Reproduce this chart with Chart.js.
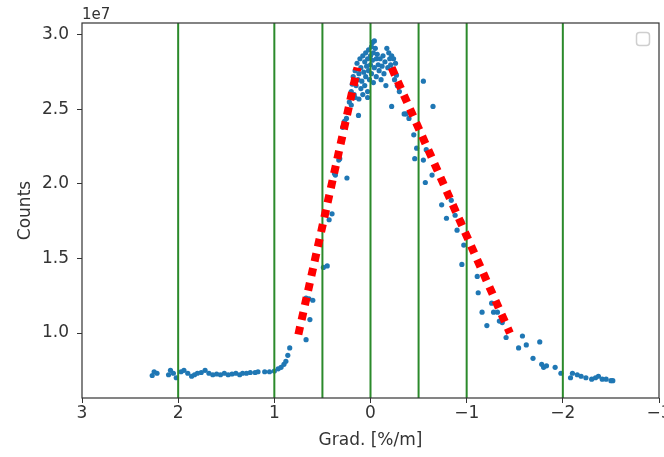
<!DOCTYPE html>
<html lang="en">
<head>
    <meta charset="UTF-8">
    <title>Gradient distribution</title>
    <script src="https://cdn.jsdelivr.net/npm/chart.js"></script>
    <style>
        html, body { margin: 0; padding: 0; background: #fff; }
        #wrap { width: 664px; height: 457px; }
    </style>
</head>
<body>
    <div id="wrap"><canvas id="gradChart" width="664" height="457"></canvas></div>

    <script>
        // counts are given in units of 1e7
        const countScale = 1e7;

        const gradX = [
            2.27, 2.25, 2.22, 2.10, 2.08, 2.05, 2.02, 1.97, 1.94, 1.90, 1.86, 1.83, 1.80, 1.76, 1.72, 1.68,
            1.64, 1.60, 1.56, 1.52, 1.48, 1.44, 1.40, 1.36, 1.33, 1.29, 1.25, 1.20, 1.17, 1.10, 1.05, 1.00,
            0.96, 0.93, 0.90, 0.88, 0.86, 0.84,
            0.67, 0.63, 0.67, 0.64, 0.60, 0.49, 0.45, 0.43, 0.40, 0.375, 0.365, 0.245, 0.33, 0.32, 0.29, 0.27,
            0.26, 0.25, 0.23, 0.20, 0.16, 0.125,
            0.22, 0.20, 0.19, 0.18, 0.17, 0.16, 0.15, 0.14, 0.13, 0.12, 0.12, 0.11, 0.10, 0.10, 0.09, 0.08,
            0.08, 0.07, 0.06, 0.06, 0.05, 0.05, 0.04, 0.03, 0.03, 0.02, 0.02, 0.01, 0.00, 0.00, -0.01, -0.01,
            -0.02, -0.02, -0.03, -0.03, -0.04, -0.04, -0.05, -0.06, -0.06, -0.07, -0.08, -0.09, -0.10, -0.11,
            -0.12, -0.13, -0.14, -0.15, -0.16, -0.17, -0.18, -0.19, -0.20, -0.21, -0.22, -0.23, -0.24, -0.25,
            -0.26, -0.27, -0.28, -0.30, 0.03,
            -0.22, -0.28, -0.35, -0.37, -0.40, -0.45, -0.48, -0.46, -0.55, -0.58, -0.55, -0.65, -0.57, -0.64,
            -0.74, -0.79, -0.84, -0.88, -0.90, -0.95, -0.97, -0.95, -1.11, -1.12, -1.16, -1.21, -1.26, -1.28,
            -1.32, -1.34, -1.37, -1.41, -1.54, -1.58, -1.62, -1.69, -1.76, -1.78, -1.80, -1.83, -1.92, -1.98,
            -2.08, -2.10, -2.15, -2.19, -2.24, -2.30, -2.34, -2.37, -2.41, -2.45, -2.50, -2.52
        ];
        const counts = [
            0.715, 0.74, 0.73, 0.72, 0.75, 0.73, 0.70, 0.74, 0.75, 0.73, 0.71, 0.72, 0.73, 0.735, 0.75, 0.73,
            0.72, 0.725, 0.72, 0.73, 0.72, 0.725, 0.73, 0.72, 0.73, 0.73, 0.735, 0.735, 0.74, 0.74, 0.74, 0.745,
            0.76, 0.77, 0.79, 0.81, 0.85, 0.90,
            0.955, 1.09, 1.235, 1.23, 1.22, 1.44, 1.45, 1.76, 1.80, 2.07, 2.06, 2.04, 2.16, 2.17, 2.38, 2.42,
            2.40, 2.44, 2.48, 2.53, 2.58, 2.46,
            2.55, 2.62, 2.67, 2.72, 2.60, 2.76, 2.66, 2.81, 2.70, 2.57, 2.74, 2.84, 2.64, 2.78, 2.69, 2.86,
            2.60, 2.75, 2.82, 2.66, 2.88, 2.72, 2.79, 2.84, 2.62, 2.90, 2.76, 2.70, 2.86, 2.80, 2.92, 2.74,
            2.95, 2.83, 2.88, 2.68, 2.96, 2.78, 2.91, 2.84, 2.72, 2.87, 2.80, 2.76, 2.84, 2.70,
            2.79, 2.86, 2.74, 2.82, 2.66, 2.91, 2.78, 2.88, 2.84, 2.80, 2.86, 2.77, 2.84, 2.70,
            2.81, 2.73, 2.66, 2.62, 2.58,
            2.52, 2.66, 2.47, 2.47, 2.44, 2.33, 2.24, 2.17, 2.16, 2.23, 2.69, 2.52, 2.01, 2.06,
            1.86, 1.77, 1.89, 1.79, 1.69, 1.75, 1.59, 1.46, 1.38, 1.27, 1.14, 1.05, 1.20, 1.14,
            1.14, 1.08, 1.07, 0.97, 0.90, 0.98, 0.92, 0.83, 0.94, 0.79, 0.77, 0.78, 0.77, 0.73,
            0.70, 0.73, 0.72, 0.71, 0.70, 0.69, 0.70, 0.71, 0.69, 0.69, 0.68, 0.68
        ];

        // vertical markers on the gradient axis
        const markerX = [2, 1, 0.5, 0, -0.5, -1, -2];

        // hand-drawn slopes on both flanks
        const leftSlopeX = [0.75, 0.135];
        const leftSlopeY = [0.99, 2.78];
        const rightSlopeX = [-0.22, -1.45];
        const rightSlopeY = [2.78, 1.0];

        const xTicks = [3, 2, 1, 0, -1, -2, -3];
        const yTicks = [1.0, 1.5, 2.0, 2.5, 3.0];
        const yMin = 0.564 * countScale;
        const yMax = 3.08 * countScale;

        const fontFamily = '"DejaVu Sans", sans-serif';
        const minus = v => (v < 0 ? '\u2212' + Math.abs(v) : String(v));

        const points = gradX.map((x, i) => ({ x: x, y: counts[i] * countScale }));

        const markerSets = markerX.map(x => ({
            data: [{ x: x, y: yMin }, { x: x, y: yMax }],
            showLine: true,
            borderColor: '#2b8a2b',
            borderWidth: 2,
            pointRadius: 0,
            order: 1
        }));

        const slopeSet = (xs, ys) => ({
            data: xs.map((x, i) => ({ x: x, y: ys[i] * countScale })),
            showLine: true,
            borderColor: '#ff0000',
            borderWidth: 8,
            borderDash: [8, 7],
            borderCapStyle: 'butt',
            pointRadius: 0,
            order: 0
        });

        // frame, offset text and the empty legend box
        const decorations = {
            id: 'decorations',
            afterDraw(chart) {
                const { ctx, chartArea: a } = chart;
                ctx.save();
                ctx.strokeStyle = '#333';
                ctx.lineWidth = 1.2;
                ctx.strokeRect(a.left, a.top, a.right - a.left, a.bottom - a.top);

                ctx.fillStyle = '#333';
                ctx.font = '15px ' + fontFamily;
                ctx.textBaseline = 'alphabetic';
                ctx.fillText('1e7', a.left, 19);

                ctx.strokeStyle = '#cfcfcf';
                ctx.lineWidth = 1.5;
                ctx.beginPath();
                ctx.roundRect(636.5, 32.5, 13, 13, 3);
                ctx.stroke();
                ctx.restore();
            }
        };

        new Chart(document.getElementById('gradChart'), {
            type: 'scatter',
            data: {
                datasets: [
                    slopeSet(leftSlopeX, leftSlopeY),
                    slopeSet(rightSlopeX, rightSlopeY),
                    ...markerSets,
                    {
                        data: points,
                        backgroundColor: '#1f77b4',
                        borderWidth: 0,
                        pointRadius: 2.6,
                        order: 2
                    }
                ]
            },
            options: {
                responsive: false,
                animation: false,
                layout: { padding: { top: 23, right: 5, left: 0, bottom: 0 } },
                plugins: {
                    legend: { display: false },
                    tooltip: { enabled: false }
                },
                scales: {
                    x: {
                        type: 'linear',
                        reverse: true,
                        min: -3,
                        max: 3,
                        afterFit: s => {
                            s.height = 59;
                            s.paddingLeft = 0;
                            s.paddingRight = 0;
                        },
                        afterBuildTicks: s => { s.ticks = xTicks.map(v => ({ value: v })); },
                        grid: { drawOnChartArea: false, color: '#333', tickLength: 5 },
                        border: { display: false },
                        ticks: {
                            color: '#333',
                            padding: 0,
                            maxRotation: 0,
                            font: { family: fontFamily, size: 17 },
                            callback: v => minus(v)
                        },
                        title: {
                            display: true,
                            text: 'Grad. [%/m]',
                            color: '#333',
                            padding: { top: 0, bottom: 6 },
                            font: { family: fontFamily, size: 17 }
                        }
                    },
                    y: {
                        min: yMin,
                        max: yMax,
                        afterFit: s => {
                            s.width = 82;
                            s.paddingTop = 0;
                            s.paddingBottom = 0;
                        },
                        afterBuildTicks: s => { s.ticks = yTicks.map(v => ({ value: v * countScale })); },
                        grid: { drawOnChartArea: false, color: '#333', tickLength: 5 },
                        border: { display: false },
                        ticks: {
                            color: '#333',
                            padding: 8,
                            font: { family: fontFamily, size: 17 },
                            callback: v => (v / countScale).toFixed(1)
                        },
                        title: {
                            display: true,
                            text: 'Counts',
                            color: '#333',
                            padding: { top: 15, bottom: 0 },
                            font: { family: fontFamily, size: 17 }
                        }
                    }
                }
            },
            plugins: [decorations]
        });
    </script>
</body>
</html>
